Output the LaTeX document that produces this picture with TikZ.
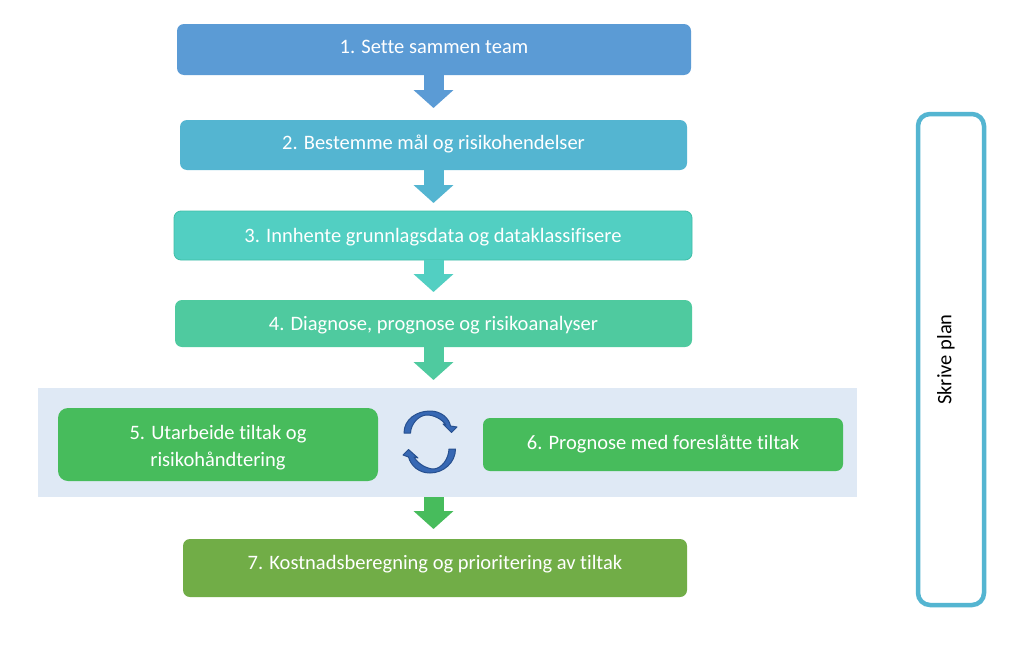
\documentclass[tikz,border=0pt]{standalone}
\usepackage{fontspec}
\setmainfont[Ligatures=NoCommon]{Carlito}
\usetikzlibrary{arrows.meta,calc}
\definecolor{cOne}{HTML}{5B9BD5}
\definecolor{cTwo}{HTML}{54B5D1}
\definecolor{cThree}{HTML}{52CFC2}
\definecolor{cThreeEdge}{HTML}{3FBFA8}
\definecolor{cFour}{HTML}{4FCA9F}
\definecolor{cFive}{HTML}{47BC5C}
\definecolor{cSeven}{HTML}{71AD47}
\definecolor{cBand}{HTML}{DFE9F5}
\definecolor{cCycle}{HTML}{27508F}
\definecolor{cCycleLight}{HTML}{3768B4}
\tikzset{
  stepbox/.style={rounded corners=7pt,inner sep=0pt,text=white,align=center,
    font=\fontsize{20.5}{27}\selectfont},
  flowarrow/.style={line width=20pt,-{Triangle[width=39pt,length=18pt]}},
  sidebox/.style={draw=cTwo,line width=4.5pt,rounded corners=12pt,fill=white,inner sep=0pt},
}
\begin{document}
\begin{tikzpicture}[x=1pt,y=-1pt]
\useasboundingbox (0,0) rectangle (1023,645);
\fill[white] (0,0) rectangle (1023,645);
% band behind steps 5 and 6
\node[fill=cBand,inner sep=0pt,minimum width=819pt,minimum height=109pt] (band) at (447.5,442.5) {};
% process steps
\node[stepbox,fill=cOne,minimum width=514pt,minimum height=51pt] (s1) at (434,49.5) {\raisebox{5.5pt}{1. Sette sammen team}};
\node[stepbox,fill=cTwo,minimum width=507pt,minimum height=50pt] (s2) at (433.5,145) {\raisebox{6.5pt}{2. Bestemme mål og risikohendelser}};
\node[stepbox,fill=cThree,draw=cThreeEdge,line width=0.8pt,minimum width=518pt,minimum height=49pt] (s3) at (433,235.5) {\raisebox{-2pt}[\height][\depth]{3. Innhente grunnlagsdata og dataklassifisere}};
\node[stepbox,fill=cFour,minimum width=517pt,minimum height=47pt] (s4) at (433.5,323.5) {\raisebox{-2pt}[\height][\depth]{4. Diagnose, prognose og risikoanalyser}};
\node[stepbox,fill=cFive,rounded corners=10pt,minimum width=320pt,minimum height=73pt] (s5) at (218,444.5) {};
\node[stepbox] (s5text) at (218,448) {5. Utarbeide tiltak og\\risikohåndtering};
\node[stepbox,fill=cFive,minimum width=360pt,minimum height=53pt] (s6) at (663,444.5) {\raisebox{5.5pt}{6. Prognose med foreslåtte tiltak}};
\node[stepbox,fill=cSeven,minimum width=504pt,minimum height=58pt] (s7) at (435,568) {\raisebox{10.5pt}{7. Kostnadsberegning og prioritering av tiltak}};
% side box
\node[sidebox,minimum width=66pt,minimum height=491pt] (side) at (951,359.5) {};
\node[rotate=90,font=\fontsize{20.5}{24}\selectfont] (sidelabel) at (946,359.5) {Skrive plan};
% arrow tips
\coordinate (t1) at (433.5,108);
\coordinate (t2) at (433.5,203);
\coordinate (t3) at (433.5,292);
\coordinate (t4) at (433.5,380);
\coordinate (t5) at (433.5,529);
\draw[flowarrow,cOne] (s1.south -| t1) -- (t1);
\draw[flowarrow,cTwo] (s2.south -| t2) -- (t2);
\draw[flowarrow,cThree] (s3.south -| t3) -- (t3);
\draw[flowarrow,cFour] (s4.south -| t4) -- (t4);
\draw[flowarrow,cFive] (band.south -| t5) -- (t5);
% cycle arrows between steps 5 and 6
\filldraw[fill=cCycleLight,draw=cCycle,line width=1pt,line join=round]
  (404,433) .. controls (404,419) and (417,411) .. (430,411)
  .. controls (441,411) and (449,418) .. (450.5,426)
  -- (457,427) -- (451.5,432.5) -- (443,424) -- (446,425)
  .. controls (442,419) and (433,414.5) .. (426,415)
  .. controls (418,416) and (411,424) .. (410.5,433) -- cycle;
\filldraw[fill=cCycleLight,draw=cCycle,line width=1pt,line join=round]
  (455.5,449) .. controls (455.5,463) and (443,473) .. (430,473)
  .. controls (419,473) and (411,466) .. (408.5,457)
  -- (403,455) -- (408.5,449.5) -- (418,458) -- (414,457)
  .. controls (418,464) and (427,469) .. (434,469)
  .. controls (442,468) and (448.5,459) .. (449,449) -- cycle;
\end{tikzpicture}
\end{document}
